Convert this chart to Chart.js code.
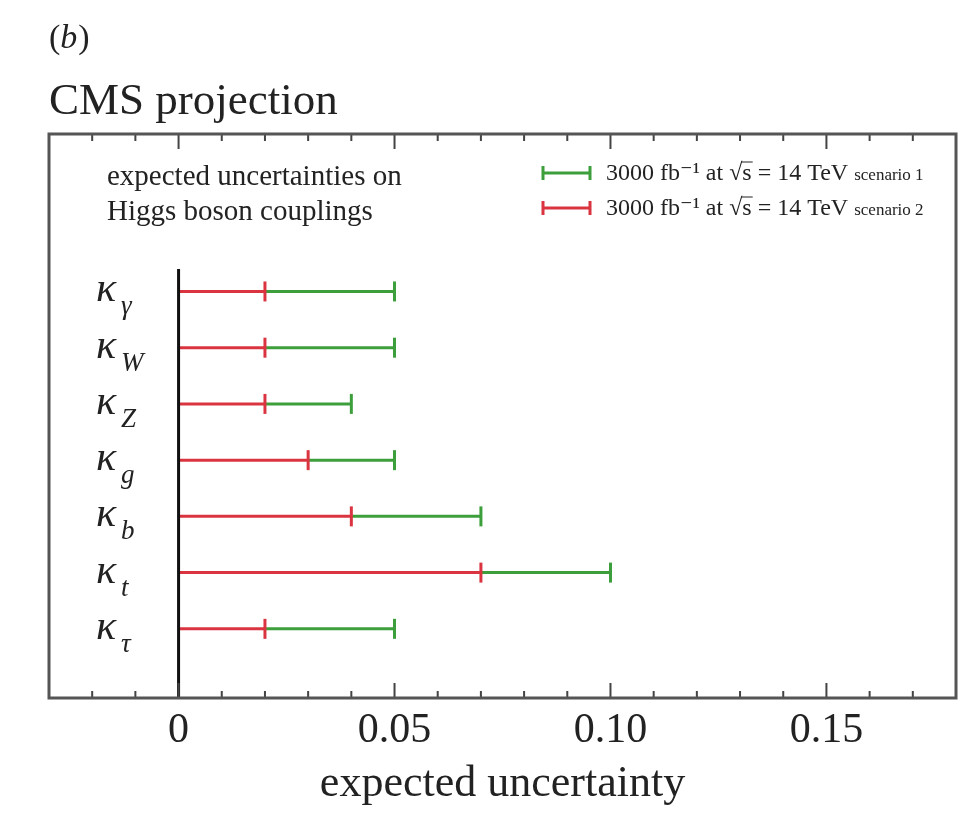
<!DOCTYPE html>
<html><head><meta charset="utf-8">
<script src="https://cdn.jsdelivr.net/npm/chart.js@4/dist/chart.umd.min.js"></script>
<style>html,body{margin:0;padding:0;background:#fff;}#wrap{width:969px;height:813px;}</style>
</head><body><div id="wrap"><canvas id="c" width="969" height="813"></canvas></div>
<script>
// ---- data ----
const couplings = ['γ', 'W', 'Z', 'g', 'b', 't', 'τ'];
const scenario1 = [0.05, 0.05, 0.04, 0.05, 0.07, 0.10, 0.05]; // green
const scenario2 = [0.02, 0.02, 0.02, 0.03, 0.04, 0.07, 0.02]; // red
const tickLabels = ['0', '0.05', '0.10', '0.15'];
const seriesNames = ['3000 fb⁻¹ at √s = 14 TeV', '3000 fb⁻¹ at √s = 14 TeV'];
const seriesTags = ['scenario 1', 'scenario 2'];
const annotation = ['expected uncertainties on', 'Higgs boson couplings'];
const xTitle = 'expected uncertainty';
const panelLabel = '(b)';
const chartTitle = 'CMS projection';

const GREEN = '#3c9f3c';
const RED = '#d9343f';
const SERIF = '"Liberation Serif", "DejaVu Serif", serif';

const datasets = [];
// green lines (scenario 1) from scenario2 end to scenario1 end
couplings.forEach((c, i) => {
  datasets.push({ type: 'scatter', showLine: true, data: [{x: scenario2[i], y: i}, {x: scenario1[i], y: i}],
    borderColor: GREEN, borderWidth: 3, pointRadius: 0, order: 3 });
});
datasets.push({ type: 'scatter', data: couplings.map((c, i) => ({x: scenario1[i], y: i})),
  pointStyle: 'line', rotation: 90, pointRadius: 10, pointHoverRadius: 10, borderColor: GREEN, backgroundColor: GREEN, pointBorderWidth: 3, order: 3 });
// red lines (scenario 2) from 0
couplings.forEach((c, i) => {
  datasets.push({ type: 'scatter', showLine: true, data: [{x: 0, y: i}, {x: scenario2[i], y: i}],
    borderColor: RED, borderWidth: 3, pointRadius: 0, order: 2 });
});
datasets.push({ type: 'scatter', data: couplings.map((c, i) => ({x: scenario2[i], y: i})),
  pointStyle: 'line', rotation: 90, pointRadius: 10, pointHoverRadius: 10, borderColor: RED, backgroundColor: RED, pointBorderWidth: 3, order: 2 });
// vertical zero line
datasets.push({ type: 'scatter', showLine: true, data: [{x: 0, y: -0.4}, {x: 0, y: 7.3}],
  borderColor: '#111', borderWidth: 3, pointRadius: 0, order: 1 });

const decor = {
  id: 'decor',
  afterDraw(chart) {
    const ctx = chart.ctx;
    const ca = chart.chartArea;
    const xs = chart.scales.x, ys = chart.scales.y;
    ctx.save();
    // ticks
    ctx.strokeStyle = '#444';
    ctx.lineWidth = 2;
    for (let k = -3; k <= 18; k++) {
      const v = k / 100;
      const px = xs.getPixelForValue(v);
      const major = (k % 5 === 0);
      const len = major ? 15 : 7;
      ctx.beginPath();
      ctx.moveTo(px, ca.top); ctx.lineTo(px, ca.top + len);
      ctx.moveTo(px, ca.bottom); ctx.lineTo(px, ca.bottom - len);
      ctx.stroke();
    }
    // frame
    ctx.strokeStyle = '#555';
    ctx.lineWidth = 3;
    ctx.strokeRect(ca.left, ca.top, ca.right - ca.left, ca.bottom - ca.top);

    ctx.fillStyle = '#222';
    ctx.textBaseline = 'alphabetic';
    ctx.textAlign = 'left';
    // panel label and title
    ctx.font = '34px ' + SERIF;
    ctx.fillText('(', ca.left, 48);
    let w = ctx.measureText('(').width;
    ctx.font = 'italic 34px ' + SERIF;
    ctx.fillText('b', ca.left + w, 48);
    w += ctx.measureText('b').width;
    ctx.font = '34px ' + SERIF;
    ctx.fillText(')', ca.left + w + 1, 48);
    ctx.font = '45px ' + SERIF;
    ctx.fillText(chartTitle, ca.left, 114);

    // annotation
    ctx.font = '29px ' + SERIF;
    ctx.fillText(annotation[0], ca.left + 58, ca.top + 51);
    ctx.fillText(annotation[1], ca.left + 58, ca.top + 86);

    // legend
    const colors = [GREEN, RED];
    const lx0 = ca.right - 413, lx1 = ca.right - 366;
    [0, 1].forEach(j => {
      const y = ca.top + 39 + j * 35;
      ctx.strokeStyle = colors[j];
      ctx.lineWidth = 3;
      ctx.beginPath();
      ctx.moveTo(lx0, y); ctx.lineTo(lx1, y);
      ctx.moveTo(lx0, y - 7); ctx.lineTo(lx0, y + 7);
      ctx.moveTo(lx1, y - 7); ctx.lineTo(lx1, y + 7);
      ctx.stroke();
      ctx.fillStyle = '#222';
      ctx.font = '24px ' + SERIF;
      const tx = ca.right - 350, ty = y + 7;
      const name = seriesNames[j];
      ctx.fillText(name, tx, ty);
      // overline on s of √s
      const idx = name.indexOf('√');
      const pre = ctx.measureText(name.slice(0, idx + 1)).width;
      const sw = ctx.measureText('s').width;
      ctx.strokeStyle = '#222';
      ctx.lineWidth = 1;
      ctx.beginPath();
      ctx.moveTo(tx + pre - 1, ty - 18); ctx.lineTo(tx + pre + sw + 1, ty - 18);
      ctx.stroke();
      const nw = ctx.measureText(name + ' ').width;
      ctx.font = '17px ' + SERIF;
      ctx.fillText(seriesTags[j], tx + nw, ty);
    });

    // kappa labels
    couplings.forEach((c, i) => {
      const py = ys.getPixelForValue(i);
      ctx.fillStyle = '#222';
      ctx.font = 'italic 42px ' + SERIF;
      ctx.fillText('κ', 96, py + 10);
      ctx.font = 'italic 27px ' + SERIF;
      ctx.fillText(c, 121, py + 23);
    });
    ctx.restore();
  }
};

new Chart(document.getElementById('c'), {
  type: 'scatter',
  data: { datasets },
  options: {
    responsive: false,
    animation: false,
    devicePixelRatio: 1,
    layout: { padding: { left: 49, right: 11, top: 134, bottom: 0 } },
    plugins: { legend: { display: false }, tooltip: { enabled: false } },
    scales: {
      x: {
        type: 'linear', min: -0.03, max: 0.18,
        afterFit(s) { s.height = 115; },
        grid: { display: false, drawTicks: false },
        border: { display: false },
        ticks: {
          stepSize: 0.01, autoSkip: false, maxRotation: 0, padding: 8,
          color: '#222', font: { family: SERIF, size: 42 },
          callback(v) {
            const q = v / 0.05;
            if (v > -1e-9 && Math.abs(q - Math.round(q)) < 1e-6) {
              return tickLabels[Math.round(q)] ?? '';
            }
            return '';
          }
        },
        title: { display: true, text: xTitle, color: '#222', font: { family: SERIF, size: 44 }, padding: { top: 0, bottom: 2 } }
      },
      y: { type: 'linear', min: -2.8, max: 7.23, reverse: true, display: false }
    }
  },
  plugins: [decor]
});
</script></body></html>
